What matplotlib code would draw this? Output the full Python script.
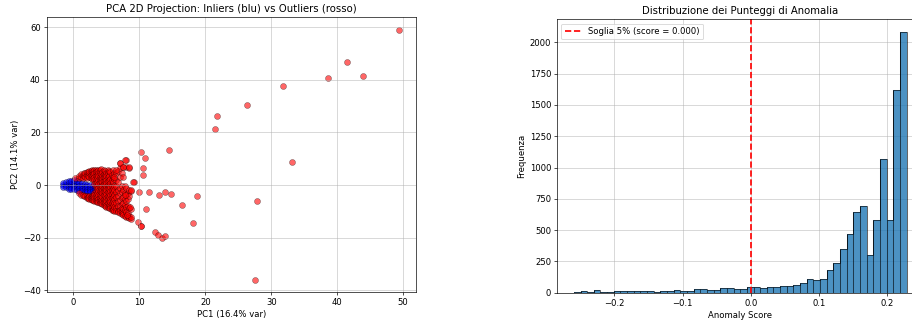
import numpy as np
import matplotlib
matplotlib.use("Agg")
from matplotlib import pyplot as plt

# --- PCA projection: inliers (blue), read column by column (x, [y...]) ---
inlier_columns = [
    (-1.5, [0.0, 0.8, -0.6]),
    (-1.1, [0.2, 1.2, -0.8]),
    (-0.7, [0.6, 1.6, -0.6, -1.4]),
    (-0.3, [0.4, 1.6, -0.6, -1.6]),
    (0.1, [0.8, 1.8, -0.4, -1.6]),
    (0.5, [0.4, 1.4, -0.8, -1.8]),
    (0.9, [0.8, -0.2, -1.2, -2.2]),
    (1.3, [0.6, -0.4, -1.4, -2.4]),
    (1.7, [0.4, -0.6, -1.6, -2.6]),
    (2.1, [0.2, -0.8, -1.8, -2.6]),
    (2.5, [0.0, -1.0, -2.0, -2.8]),
    (2.9, [-0.4, -1.4, -2.4]),
    (3.3, [-0.8, -1.8]),
]

# --- PCA projection: outliers (red), dense wedge ---
outlier_columns = [
    (0.3, [2.6]),
    (0.8, [2.8, 3.6, -3.2]),
    (1.2, [3.0, 4.2, -3.6]),
    (1.4, [3.8, 2.8, -3.8]),
    (1.6, [3.4, 4.6, -4.0]),
    (1.8, [4.4, 3.0, -4.2]),
    (2.0, [4.0, 5.0, 2.8, -4.0, -4.8]),
    (2.2, [4.8, 3.6, -4.4, -5.0]),
    (2.4, [4.4, 5.4, 3.2, -4.0, -5.2]),
    (2.6, [5.2, 4.0, 2.6, -4.4, -5.4]),
    (2.8, [5.0, 5.8, 3.6, 2.2, -4.0, -4.8, -5.6]),
    (3.0, [5.4, 4.2, 2.8, -3.8, -4.6, -5.8]),
    (3.2, [5.6, 4.4, 3.0, 1.8, 0.4, -3.0, -3.8, -5.0, -6.0]),
    (3.4, [5.8, 4.8, 3.4, 2.0, 0.6, -0.8, -2.4, -3.6, -5.0, -6.2]),
    (3.6, [5.2, 4.0, 2.6, 1.2, -0.2, -1.6, -3.0, -4.4, -5.6, -6.4]),
    (3.8, [5.8, 4.6, 3.4, 1.8, 0.4, -1.0, -2.4, -3.8, -5.2, -6.6]),
    (4.0, [5.6, 4.4, 3.2, 2.0, 0.6, -0.8, -2.2, -3.6, -5.0, -6.2, -6.9]),
    (4.2, [6.0, 4.2, 2.6, 1.4, -0.2, -1.4, -2.8, -4.2, -5.6, -6.8]),
    (4.4, [4.8, 3.6, 2.2, 1.0, -0.4, -1.8, -3.2, -4.6, -6.0, -7.2]),
    (4.6, [5.6, 4.2, 3.0, 1.6, 0.4, -1.0, -2.4, -3.8, -5.2, -6.4, -7.6]),
    (4.8, [5.2, 4.0, 2.6, 1.4, 0.0, -1.4, -2.8, -4.2, -5.6, -6.8, -7.8]),
    (5.0, [4.6, 3.4, 2.0, 0.8, -0.6, -2.0, -3.4, -4.8, -6.2, -7.4, -8.4]),
    (5.2, [5.6, 4.4, 3.0, 1.6, 0.2, -1.2, -2.6, -4.0, -5.4, -6.8, -8.2]),
    (5.4, [5.2, 3.6, 1.8, -0.2, -1.6, -3.0, -4.6, -6.0, -7.4, -8.6]),
    (5.6, [4.8, 2.4, 0.8, -0.8, -2.2, -3.6, -5.2, -6.6, -8.0, -8.9]),
    (5.8, [4.0, 1.8, -0.2, -1.8, -3.4, -5.0, -7.0, -8.4, -9.4]),
    (6.0, [5.6, 3.2, 1.0, -1.0, -2.8, -4.4, -6.0, -7.6, -9.0, -9.6]),
    (6.2, [4.4, 2.4, -0.2, -2.0, -3.8, -5.2, -7.0, -8.2, -9.8]),
    (6.5, [4.6, 2.0, -0.4, -2.6, -4.6, -6.8, -8.6, -10.0]),
    (6.8, [5.4, 1.0, -1.8, -4.0, -6.0, -8.0, -9.8, -10.4]),
    (7.0, [8.2, 6.6, 3.0, -1.0, -3.2, -5.6, -7.8, -9.4, -10.8]),
    (7.3, [4.4, -0.4, -2.8, -5.0, -7.2, -8.8, -10.4, -11.0]),
    (7.5, [7.0, 3.0, -2.0, -4.4, -6.8, -9.0, -10.6, -11.4]),
    (7.8, [-0.4, -3.2, -5.2, -7.4, -9.6, -11.6]),
    (8.0, [9.4, 6.8, -1.2, -3.8, -6.2, -8.4, -10.2, -12.0]),
    (8.3, [-3.0, -5.2, -7.8, -10.6, -12.2]),
    (8.5, [6.6, -2.0, -4.0, -8.6, -11.6, -12.6]),
    (8.8, [-2.2, -9.0, -12.8]),
    (9.2, [1.0]),
]

# --- PCA projection: outliers (red), isolated points ---
isolated_x = [49.4, 41.5, 43.9, 38.6, 31.7, 26.3, 21.8, 21.5, 33.2, 27.8, 27.5,
              18.8, 18.2, 16.5, 14.8, 13.9, 13.0, 11.5, 14.5, 10.2, 10.9, 10.6,
              10.6, 10.0, 11.0, 12.3, 12.8, 13.4, 13.9, 9.8, 10.2, 10.3, 9.1,
              7.9, 7.1, 8.4, 7.5, 6.2, 6.5, 8.7, 7.9, 8.6, 8.7, 8.2]
isolated_y = [59.0, 46.6, 41.5, 40.5, 37.5, 30.4, 26.3, 21.3, 8.6, -5.9, -35.9,
              -4.2, -14.3, -7.7, -3.3, -2.5, -3.7, -2.8, 13.3, 12.5, 10.1, 6.6,
              3.8, -2.8, -9.0, -17.8, -19.0, -20.0, -19.5, -14.2, -15.4, -15.6, 1.2,
              9.4, 8.2, 6.7, 6.9, 3.1, 5.9, -1.9, -3.8, -8.3, -12.1, -11.2]

# --- anomaly score histogram (50 bins) ---
score_min = -0.2595
score_max = 0.2283
bin_counts = [5, 13, 3, 19, 8, 8, 11, 11, 16, 16,
              11, 16, 8, 16, 16, 24, 11, 11, 32, 32,
              24, 19, 40, 35, 32, 29, 43, 45, 35, 43,
              43, 50, 55, 65, 78, 112, 105, 112, 181, 240,
              352, 467, 642, 694, 299, 582, 1068, 577, 1622, 2080]
threshold = 0.000


def expand(columns):
    xs = [x for x, ys in columns for _ in ys]
    ys = [y for _, col in columns for y in col]
    return xs, ys


inlier_x, inlier_y = expand(inlier_columns)
wedge_x, wedge_y = expand(outlier_columns)
outlier_x = wedge_x + isolated_x
outlier_y = wedge_y + isolated_y

DPI = 60.8
fig = plt.figure(figsize=(912 / DPI, 322 / DPI), dpi=DPI)
ax1 = fig.add_axes([0.0512, 0.0932, 0.405, 0.853])
ax2 = fig.add_axes([0.611, 0.091, 0.4013, 0.849])

ax1.scatter(inlier_x, inlier_y, c='blue', alpha=0.6, s=50, edgecolors='k', linewidths=0.5)
ax1.scatter(outlier_x, outlier_y, c='red', alpha=0.6, s=50, edgecolors='k', linewidths=0.5)
ax1.set_title('PCA 2D Projection: Inliers (blu) vs Outliers (rosso)', fontsize=12)
ax1.set_xlabel('PC1 (16.4% var)')
ax1.set_ylabel('PC2 (14.1% var)')
ax1.grid(True, alpha=0.7)

edges = np.linspace(score_min, score_max, len(bin_counts) + 1)
ax2.stairs(bin_counts, edges, fill=True, color='C0', alpha=0.8)
ax2.stairs(bin_counts, edges, fill=False, color='k', alpha=0.6, linewidth=1.2, baseline=0)
for i, c in enumerate(bin_counts):
    ax2.vlines(edges[i], 0, c, color='k', alpha=0.6, linewidth=1.2)
ax2.set_ylim(0, max(bin_counts) * 1.05)
ax2.axvline(threshold, color='red', linestyle='--', linewidth=2,
            label=f'Soglia 5% (score = {threshold:.3f})')
ax2.set_title('Distribuzione dei Punteggi di Anomalia', fontsize=12)
ax2.set_xlabel('Anomaly Score')
ax2.set_ylabel('Frequenza')
ax2.legend(loc='upper left')
ax2.grid(True, alpha=0.7)
ax2.set_axisbelow(True)

fig.savefig('out.png', dpi=DPI)
